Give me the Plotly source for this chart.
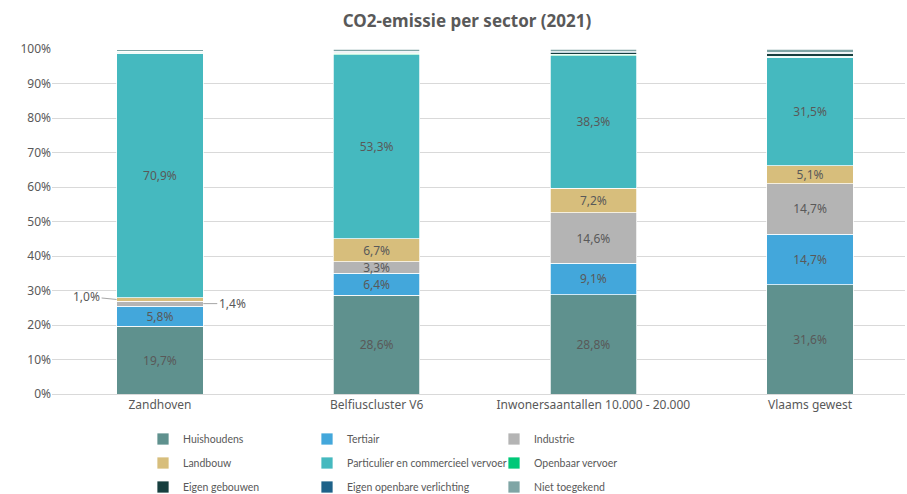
import plotly.graph_objects as go

categories = ["Zandhoven", "Belfiuscluster V6", "Inwonersaantallen 10.000 - 20.000", "Vlaams gewest"]
sectors = ["Huishoudens", "Tertiair", "Industrie", "Landbouw",
           "Particulier en commercieel vervoer", "Openbaar vervoer",
           "Eigen gebouwen", "Eigen openbare verlichting", "Niet toegekend"]

huishoudens = [19.7, 28.6, 28.8, 31.6]
tertiair = [5.8, 6.4, 9.1, 14.7]
industrie = [1.4, 3.3, 14.6, 14.7]
landbouw = [1.0, 6.7, 7.2, 5.1]
particulier = [70.9, 53.3, 38.3, 31.5]
openbaar = [0.3, 0.5, 0.5, 0.3]
eigen_gebouwen = [0.2, 0.3, 0.4, 0.9]
eigen_verlichting = [0.1, 0.2, 0.3, 0.2]
niet_toegekend = [0.4, 0.7, 0.8, 1.0]

series = [huishoudens, tertiair, industrie, landbouw, particulier,
          openbaar, eigen_gebouwen, eigen_verlichting, niet_toegekend]
colors = ["#5F918E", "#43A7DB", "#B4B4B4", "#D7BE7C", "#45B9BF",
          "#00C878", "#173F3F", "#1E6289", "#7FA5A5"]

GREY = "#595959"
FONT = "Noto Sans"
LEG_FONT = "Lato"

def fmt(v):
    return f"{v:.1f}".replace(".", ",") + "%"

fig = go.Figure()
legend_names = ["legend", "legend2", "legend3"]
for i, (name, vals, col) in enumerate(zip(sectors, series, colors)):
    texts = [fmt(v) if v >= 3 else "" for v in vals]
    fig.add_trace(go.Bar(
        x=list(range(len(categories))), y=vals, name=name,
        marker=dict(color=col, line=dict(color="white", width=0.75)),
        width=0.4,
        text=texts, textposition="inside", insidetextanchor="middle",
        textfont=dict(color=GREY, size=12, family=FONT),
        hoverinfo="name+y",
        legend=legend_names[i % 3],
        legendgroup=name,
    ))

# outside labels for small Zandhoven segments
half_w = 0.2
land_mid = huishoudens[0] + tertiair[0] + industrie[0] + landbouw[0] / 2
ind_mid = huishoudens[0] + tertiair[0] + industrie[0] / 2
fig.add_annotation(x=0 - half_w, y=land_mid, xref="x", yref="y", text=fmt(landbouw[0]),
                   showarrow=True, arrowhead=0, arrowwidth=1, arrowcolor="#A6A6A6",
                   ax=-30, ay=-3, standoff=0, font=dict(color=GREY, size=12, family=FONT))
fig.add_annotation(x=0 + half_w, y=ind_mid, xref="x", yref="y", text=fmt(industrie[0]),
                   showarrow=True, arrowhead=0, arrowwidth=1, arrowcolor="#A6A6A6",
                   ax=29, ay=0, standoff=0, font=dict(color=GREY, size=12, family=FONT))

legend_common = dict(orientation="v", xref="container", yref="container",
                     xanchor="left", yanchor="middle", y=1 - 463 / 494,
                     tracegroupgap=5,
                     font=dict(color=GREY, size=10.5, family=LEG_FONT), bgcolor="rgba(0,0,0,0)",
                     traceorder="grouped", itemclick=False, itemdoubleclick=False)

fig.update_layout(
    width=907, height=494,
    margin=dict(l=52, r=2, t=49, b=100, autoexpand=False),
    barmode="stack",
    bargap=0.6,
    plot_bgcolor="white", paper_bgcolor="white",
    font=dict(family=FONT, color=GREY, size=12),
    title=dict(text="<b>CO2-emissie per sector (2021)</b>", x=467 / 907, xref="container",
               xanchor="center", y=1 - 21 / 494, yanchor="middle",
               font=dict(size=17, color=GREY, family=FONT)),
    legend=dict(x=143 / 907, **legend_common),
    legend2=dict(x=307 / 907, **legend_common),
    legend3=dict(x=494 / 907, **legend_common),
    uniformtext=dict(minsize=12, mode="show"),
    xaxis=dict(tickmode="array", tickvals=list(range(len(categories))), ticktext=categories,
               range=[-0.498, 3.438], showgrid=False, zeroline=False,
               showline=True, linecolor="#D9D9D9", ticks="", automargin=False,
               tickfont=dict(color=GREY, size=12, family=FONT)),
    yaxis=dict(range=[0, 100], dtick=10, ticksuffix="%", showgrid=True, gridcolor="#D9D9D9",
               zeroline=False, showline=False, ticks="", automargin=False,
               tickfont=dict(color=GREY, size=12, family=FONT)),
)

fig.write_html("out.html", config={"displayModeBar": False},
               post_script="document.body.style.margin='0';document.body.style.overflow='hidden';")
